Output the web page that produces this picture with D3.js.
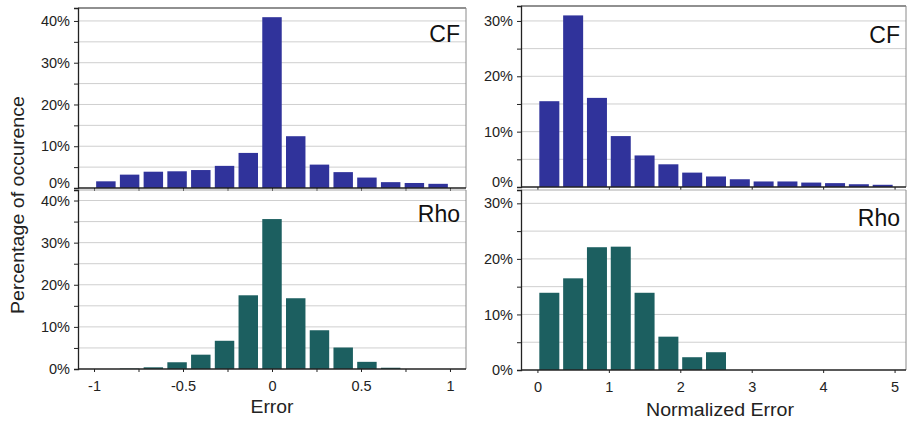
<!DOCTYPE html>
<html>
<head>
<meta charset="utf-8">
<script src="https://cdn.jsdelivr.net/npm/d3@7"></script>
<style>
  html, body { margin: 0; padding: 0; background: #fff; }
  svg { display: block; font-family: "Liberation Sans", Arial, sans-serif; }
</style>
</head>
<body>
<svg id="chart" width="908" height="426"></svg>
<script>
// ---- Data (percent of occurrence) ----
const errorTicks = [-1, -0.5, 0, 0.5, 1];
const errorTickLabels = ["-1", "-0.5", "0", "0.5", "1"];
const normTicks = [0, 1, 2, 3, 4, 5];
const normTickLabels = ["0", "1", "2", "3", "4", "5"];

// 15 bins of width 2/15 on [-1, 1]
const errorBinCenters = d3.range(15).map(i => -1 + (i + 0.5) * 2 / 15);
const cfError  = [1.6, 3.2, 3.9, 4.0, 4.3, 5.3, 8.4, 40.9, 12.4, 5.6, 3.8, 2.5, 1.4, 1.2, 1.0];
const rhoError = [0.0, 0.1, 0.4, 1.6, 3.4, 6.7, 17.5, 35.6, 16.8, 9.2, 5.1, 1.7, 0.3, 0.0, 0.0];

// 15 bins of width 1/3 on [0, 5]
const normBinCenters = d3.range(15).map(i => (i + 0.5) / 3);
const cfNorm  = [15.5, 31.0, 16.1, 9.2, 5.7, 4.1, 2.6, 1.9, 1.4, 1.0, 1.0, 0.8, 0.7, 0.5, 0.4];
const rhoNorm = [13.9, 16.5, 22.1, 22.2, 13.9, 6.0, 2.3, 3.2, 0, 0, 0, 0, 0, 0, 0];

const BLUE = "#30339b";
const TEAL = "#1c5f60";

const svg = d3.select("#chart");

function panel(opts) {
  const g = svg.append("g");
  const x = d3.scaleLinear().domain(opts.xDomain).range([opts.x0, opts.x1]);
  const y = d3.scaleLinear().domain([0, opts.yMax]).range([opts.y1, opts.y0]);

  // gridlines every 5%
  const grid = d3.range(5, opts.yMax, 5);
  g.selectAll(".grid").data(grid).enter().append("line")
    .attr("x1", opts.x0).attr("x2", opts.x1)
    .attr("y1", d => y(d)).attr("y2", d => y(d))
    .attr("stroke", "#cfcfcf").attr("stroke-width", 1);

  // frame top and right
  g.append("line").attr("x1", opts.x0).attr("x2", opts.x1)
    .attr("y1", opts.y0).attr("y2", opts.y0)
    .attr("stroke", opts.topColor).attr("stroke-width", 1.2);
  g.append("line").attr("x1", opts.x1).attr("x2", opts.x1)
    .attr("y1", opts.y0).attr("y2", opts.y1)
    .attr("stroke", "#8a8a8a").attr("stroke-width", 1);

  // bars
  const bw = x(opts.binWidth * opts.barFrac) - x(0);
  g.selectAll(".bar").data(opts.values).enter().append("rect")
    .attr("x", (d, i) => x(opts.centers[i]) - bw / 2)
    .attr("width", bw)
    .attr("y", d => y(d))
    .attr("height", d => y(0) - y(d))
    .attr("fill", opts.color);

  // y axis
  const yAxis = d3.axisLeft(y).tickValues(d3.range(0, opts.yMax, 5))
    .tickSize(4).tickFormat(d => d % 10 === 0 ? d + "%" : "");
  const ya = g.append("g").attr("transform", `translate(${opts.x0},0)`).call(yAxis);
  ya.select(".domain").attr("stroke", "#222").attr("stroke-width", 1.3);
  ya.selectAll(".tick line").attr("stroke", "#222");
  ya.selectAll(".tick text").attr("font-size", 14.5).attr("fill", "#222").attr("x", -8)
    .attr("dy", d => (d === 0 && opts.liftZero) ? "-0.05em" : "0.32em");

  // x axis
  const xAxis = d3.axisBottom(x).tickValues(opts.xTickVals).tickSize(3)
    .tickFormat(d => {
      const k = opts.xLabelVals.indexOf(d);
      return (opts.showXLabels && k >= 0) ? opts.xLabels[k] : "";
    });
  const xa = g.append("g").attr("transform", `translate(0,${opts.y1})`).call(xAxis);
  xa.select(".domain").attr("stroke", "#222").attr("stroke-width", 1.3)
    .attr("d", `M${opts.x0},0H${opts.x1}`);
  xa.selectAll(".tick line").attr("stroke", "#222");
  xa.selectAll(".tick text").attr("font-size", 14.5).attr("fill", "#222").attr("y", 12);

  // panel label
  g.append("text").attr("x", opts.x1 - 6).attr("y", opts.labelY)
    .attr("text-anchor", "end").attr("font-size", 23).attr("fill", "#111")
    .text(opts.label);
  return g;
}

const leftX = { xDomain: [-1.09, 1.09], x0: 78, x1: 466, centers: errorBinCenters, binWidth: 2 / 15, barFrac: 0.82,
  xTickVals: d3.range(-1, 1.01, 0.25).map(v => Math.round(v * 100) / 100), xLabelVals: errorTicks, xLabels: errorTickLabels };
const rightX = { xDomain: [-0.23, 5.16], x0: 521, x1: 906, centers: normBinCenters, binWidth: 1 / 3, barFrac: 0.84,
  xTickVals: normTicks, xLabelVals: normTicks, xLabels: normTickLabels };

panel(Object.assign({}, leftX, { y0: 8, y1: 188, yMax: 43.1, values: cfError, color: BLUE, label: "CF", labelY: 42, showXLabels: false, topColor: "#222", liftZero: true }));
panel(Object.assign({}, leftX, { y0: 190, y1: 369, yMax: 42.5, values: rhoError, color: TEAL, label: "Rho", labelY: 222, showXLabels: true, topColor: "#aaa", liftZero: false }));
panel(Object.assign({}, rightX, { y0: 6, y1: 187, yMax: 32.7, values: cfNorm, color: BLUE, label: "CF", labelY: 43, showXLabels: false, topColor: "#222", liftZero: true }));
panel(Object.assign({}, rightX, { y0: 190, y1: 370, yMax: 32.4, values: rhoNorm, color: TEAL, label: "Rho", labelY: 226, showXLabels: true, topColor: "#aaa", liftZero: false }));

// axis titles
svg.append("text").attr("x", 272).attr("y", 413).attr("text-anchor", "middle")
  .attr("font-size", 18).attr("fill", "#222").attr("textLength", 43).attr("lengthAdjust", "spacingAndGlyphs").text("Error");
svg.append("text").attr("x", 720).attr("y", 416).attr("text-anchor", "middle")
  .attr("font-size", 18).attr("fill", "#222").attr("textLength", 148).attr("lengthAdjust", "spacingAndGlyphs").text("Normalized Error");
svg.append("text").attr("transform", "translate(24,205) rotate(-90)").attr("text-anchor", "middle")
  .attr("font-size", 18).attr("fill", "#222").attr("textLength", 218).attr("lengthAdjust", "spacingAndGlyphs").text("Percentage of occurence");
</script>
</body>
</html>
